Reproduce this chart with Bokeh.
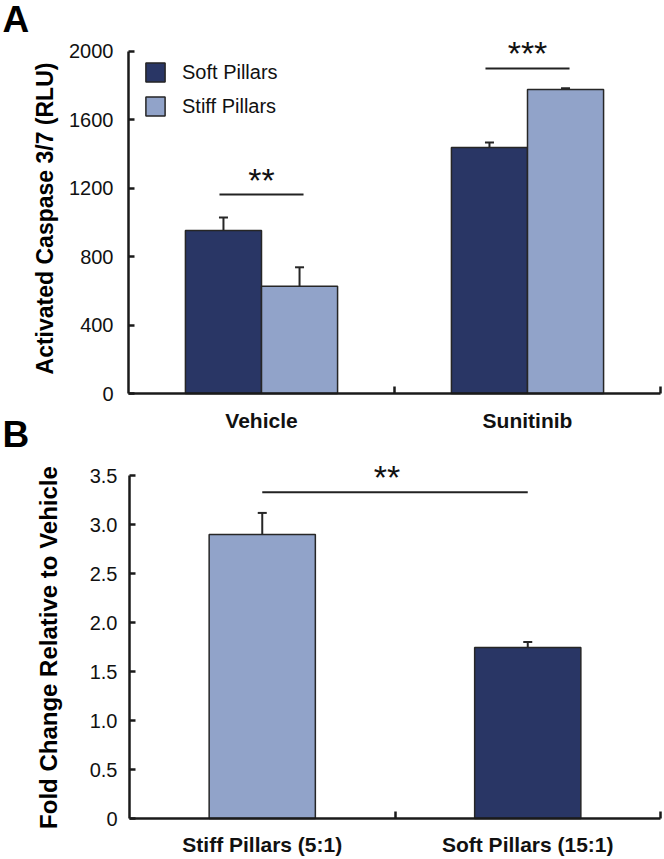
from bokeh.plotting import figure
from bokeh.models import (Range1d, FixedTicker, NumeralTickFormatter, ColumnDataSource,
                          Whisker, TeeHead, Legend, LegendItem, Label)
from bokeh.layouts import column
from bokeh.embed import file_html
from bokeh.resources import INLINE
from bokeh.core.properties import value

# ---------------- data ----------------
groups = ["Vehicle", "Sunitinib"]
soft_vals = [952, 1437]
soft_err = [76, 29]
stiff_vals = [626, 1775]
stiff_err = [111, 8]
a_yticks = [0, 400, 800, 1200, 1600, 2000]
a_sig = ["**", "***"]
a_sig_y = [1162, 1898]

b_cats = ["Stiff Pillars (5:1)", "Soft Pillars (15:1)"]
b_vals = [2.90, 1.745]
b_err = [0.22, 0.057]
b_yticks = [0, 0.5, 1.0, 1.5, 2.0, 2.5, 3.0, 3.5]
b_sig = ["**"]
b_sig_y = [3.33]

# ---------------- style ----------------
SOFT = "#293665"
STIFF = "#91A3C9"
EDGE = "#262626"
AX = "#1a1a1a"
FONT = "Liberation Sans"
W = 664
PAGE_H = 859

# panel A geometry (pixels inside its figure)
A_H = 458
A_X0, A_X1 = 128, 660      # pixel of x=0 and x=len(groups)
A_Y0, A_Y2000 = 393, 50.5  # pixel of y=0 and y=2000
# panel B geometry (pixels inside its figure, which starts at page y = A_H)
B_H = PAGE_H - A_H
B_X0, B_X1 = 129, 660
B_Y0, B_Y35 = 818 - A_H, 475.2 - A_H


def xr(n, x0, x1):
    k = n / (x1 - x0)
    return Range1d(-x0 * k, (W - x0) * k)


def yr(top_val, y0, ytop, h):
    k = top_val / (y0 - ytop)
    return Range1d(-(h - y0) * k, y0 * k)


def style_axes(p):
    for ax in [p.xaxis[0], p.yaxis[0]]:
        ax.fixed_location = 0
        ax.axis_line_width = 2.5
        ax.axis_line_color = AX
        ax.major_tick_line_width = 2.5
        ax.major_tick_line_color = AX
        ax.minor_tick_line_width = 2.5
        ax.minor_tick_line_color = AX
        ax.major_label_text_font = FONT
        ax.major_label_text_color = "#111111"
    p.yaxis[0].major_tick_in = 6
    p.yaxis[0].major_tick_out = 0
    p.yaxis[0].minor_tick_line_color = None
    p.yaxis[0].major_label_text_font_size = "20px"
    p.xaxis[0].major_tick_line_color = None
    p.xaxis[0].minor_tick_in = 7
    p.xaxis[0].minor_tick_out = 0
    p.xaxis[0].major_label_text_font_size = "21px"
    p.xaxis[0].major_label_text_font_style = "bold"
    p.xgrid.visible = False
    p.ygrid.visible = False
    p.outline_line_color = None


# ================= Panel A =================
xA = xr(len(groups), A_X0, A_X1)
yA = yr(a_yticks[-1], A_Y0, A_Y2000, A_H)
pA = figure(width=W, height=A_H, output_backend="svg", toolbar_location=None,
            x_range=xA, y_range=yA, min_border=0, background_fill_color="white")
style_axes(pA)

centers = [i + 0.5 for i in range(len(groups))]
bw = 0.286
src_soft = ColumnDataSource(dict(x=[c - bw / 2 for c in centers], top=soft_vals,
                                 upper=[v + e for v, e in zip(soft_vals, soft_err)]))
src_stiff = ColumnDataSource(dict(x=[c + bw / 2 for c in centers], top=stiff_vals,
                                  upper=[v + e for v, e in zip(stiff_vals, stiff_err)]))
r_soft = pA.vbar(x="x", top="top", width=bw, source=src_soft, fill_color=SOFT,
                 line_color=EDGE, line_width=1.5)
r_stiff = pA.vbar(x="x", top="top", width=bw, source=src_stiff, fill_color=STIFF,
                  line_color=EDGE, line_width=1.5)
for s in (src_soft, src_stiff):
    pA.add_layout(Whisker(source=s, base="x", lower="top", upper="upper",
                          line_width=2, line_color=EDGE, lower_head=None,
                          upper_head=TeeHead(size=9, line_width=2, line_color=EDGE)))

half = 0.158
pA.segment(x0=[c - half for c in centers], x1=[c + half for c in centers],
           y0=a_sig_y, y1=a_sig_y, line_width=2, line_color="#222222")
pA.text(x=centers, y=a_sig_y, text=a_sig, text_align="center",
        text_baseline="alphabetic", y_offset=-15, text_font=value(FONT),
        text_font_size="34px", text_color="#111111")

pA.yaxis[0].ticker = FixedTicker(ticks=a_yticks)
pA.yaxis[0].bounds = (0, a_yticks[-1])
pA.yaxis[0].major_label_standoff = 15
pA.xaxis[0].ticker = FixedTicker(ticks=centers, minor_ticks=list(range(1, len(groups) + 1)))
pA.xaxis[0].bounds = (0, len(groups))
pA.xaxis[0].major_label_overrides = {c: g for c, g in zip(centers, groups)}
pA.xaxis[0].major_label_standoff = 9

legend = Legend(items=[LegendItem(label="Soft Pillars", renderers=[r_soft]),
                       LegendItem(label="Stiff Pillars", renderers=[r_stiff])],
                location=(143, A_H - 118), padding=0, margin=0,
                border_line_color=None, background_fill_alpha=0,
                glyph_width=24, glyph_height=24, spacing=10, label_standoff=15,
                label_text_font=FONT, label_text_font_size="20px",
                label_text_color="#111111", label_height=24)
pA.add_layout(legend)


def ax_a(px):
    return xA.start + px / W * (xA.end - xA.start)


def ay_a(py):
    return yA.end - py / A_H * (yA.end - yA.start)


pA.add_layout(Label(x=ax_a(2), y=ay_a(19), text="A", text_font=FONT,
                    text_font_size="37px", text_font_style="bold",
                    text_baseline="alphabetic", text_align="left", text_color="black"))
pA.add_layout(Label(x=ax_a(2), y=ay_a(434), text="B", text_font=FONT,
                    text_font_size="37px", text_font_style="bold",
                    text_baseline="alphabetic", text_align="left", text_color="black"))
pA.add_layout(Label(x=ax_a(44), y=ay_a(218), text="Activated Caspase 3/7 (RLU)",
                    angle=90, angle_units="deg", text_font=FONT, text_font_size="23px",
                    text_font_style="bold", text_align="center",
                    text_baseline="alphabetic", text_color="black"))

# ================= Panel B =================
xB = xr(len(b_cats), B_X0, B_X1)
yB = yr(b_yticks[-1], B_Y0, B_Y35, B_H)
pB = figure(width=W, height=B_H, output_backend="svg", toolbar_location=None,
            x_range=xB, y_range=yB, min_border=0, background_fill_color="white")
style_axes(pB)

b_centers = [i + 0.5 for i in range(len(b_cats))]
b_colors = [STIFF, SOFT]
src_b = ColumnDataSource(dict(x=b_centers, top=b_vals, color=b_colors,
                              upper=[v + e for v, e in zip(b_vals, b_err)]))
pB.vbar(x="x", top="top", width=0.40, source=src_b, fill_color="color",
        line_color=EDGE, line_width=1.5)
pB.add_layout(Whisker(source=src_b, base="x", lower="top", upper="upper",
                      line_width=2, line_color=EDGE, lower_head=None,
                      upper_head=TeeHead(size=9, line_width=2, line_color=EDGE)))
pB.segment(x0=[b_centers[0]], x1=[b_centers[1]], y0=b_sig_y, y1=b_sig_y,
           line_width=2, line_color="#222222")
pB.text(x=[(b_centers[0] + b_centers[1]) / 2 - 0.03], y=b_sig_y, text=b_sig,
        text_align="center", text_baseline="alphabetic", y_offset=-15,
        text_font=value(FONT), text_font_size="34px", text_color="#111111")

pB.yaxis[0].ticker = FixedTicker(ticks=b_yticks)
pB.yaxis[0].bounds = (0, b_yticks[-1])
pB.yaxis[0].formatter = NumeralTickFormatter(format="0.0")
pB.yaxis[0].major_label_overrides = {0: "0"}
pB.yaxis[0].major_label_standoff = 12
pB.xaxis[0].ticker = FixedTicker(ticks=b_centers, minor_ticks=list(range(1, len(b_cats) + 1)))
pB.xaxis[0].bounds = (0, len(b_cats))
pB.xaxis[0].major_label_overrides = {c: g for c, g in zip(b_centers, b_cats)}
pB.xaxis[0].major_label_standoff = 8


def ax_b(px):
    return xB.start + px / W * (xB.end - xB.start)


def ay_b(py):
    return yB.end - py / B_H * (yB.end - yB.start)


pB.add_layout(Label(x=ax_b(48), y=ay_b(647 - A_H), text="Fold Change Relative to Vehicle",
                    angle=90, angle_units="deg", text_font=FONT, text_font_size="24px",
                    text_font_style="bold", text_align="center",
                    text_baseline="alphabetic", text_color="black"))

layout = column(pA, pB, spacing=0)
html = file_html(layout, INLINE, title="Caspase")
html = html.replace("<head>", "<head><style>html,body{margin:0;padding:0;overflow:hidden;}</style>", 1)
open("out.html", "w").write(html)
